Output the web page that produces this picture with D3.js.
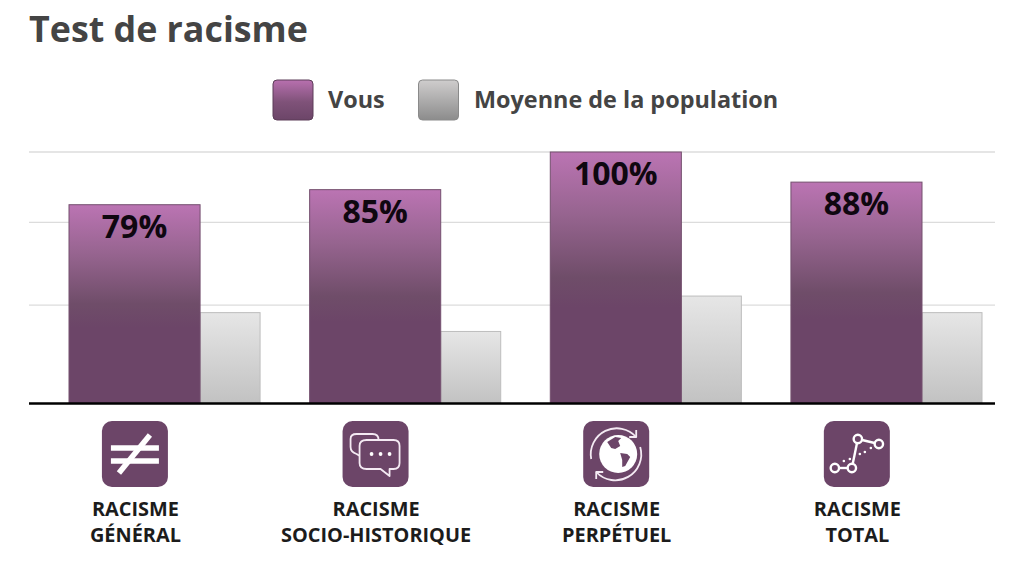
<!DOCTYPE html>
<html>
<head>
<meta charset="utf-8">
<script src="https://cdn.jsdelivr.net/npm/d3@7/dist/d3.min.js"></script>
<style>
  html, body { margin: 0; padding: 0; background: #fff; }
  text { font-family: 'Open Sans', sans-serif; font-weight: 700; }
</style>
</head>
<body>
<div id="chart"></div>
<script>
const categories = ['general', 'socio', 'perpetuel', 'total'];
const labelLines = [
  ['RACISME', 'GÉNÉRAL'],
  ['RACISME', 'SOCIO-HISTORIQUE'],
  ['RACISME', 'PERPÉTUEL'],
  ['RACISME', 'TOTAL'],
];
const vous = [79, 85, 100, 88];
const moyenne = [36, 28.5, 42.6, 36];
const gridValues = [39, 72, 100];

const width = 1024;
const height = 562;
const purple = '#6c4568';

const svg = d3.select('#chart').append('svg')
  .attr('width', width)
  .attr('height', height)
  .style('display', 'block');

const defs = svg.append('defs');

const addGradient = (id, stops) => {
  const g = defs.append('linearGradient')
    .attr('id', id)
    .attr('x1', 0).attr('y1', 0)
    .attr('x2', 0).attr('y2', 1);
  stops.forEach((s) => {
    g.append('stop').attr('offset', s[0]).attr('stop-color', s[1]);
  });
};

addGradient('barPurple', [[0, '#bb74b3'], [0.25, '#96648f'], [0.5, '#6f4d69'], [0.62, '#6c4568'], [1, '#6c4568']]);
addGradient('barGrey', [[0, '#e6e6e6'], [1, '#c2c2c2']]);
addGradient('legPurple', [[0, '#b870af'], [0.55, '#7f5279'], [1, '#6c4568']]);
addGradient('legGrey', [[0, '#cfcdcd'], [1, '#8c8c8c']]);

const y = d3.scaleLinear().domain([0, 100]).range([403, 152]);
const x = d3.scaleBand().domain(categories).range([69, 982]).paddingInner(0.206);
const inner = d3.scaleLinear().domain([0, 1]).range([0, x.bandwidth()]);
const split = 0.686; // part of the group taken by the purple bar

// title
svg.append('text')
  .attr('x', 29)
  .attr('y', 42)
  .style('font-size', '35.8px')
  .style('fill', '#444444')
  .text('Test de racisme');

// legend
const legend = [
  { name: 'Vous', x: 273, tx: 328, fill: 'url(#legPurple)', stroke: '#5c3d58' },
  { name: 'Moyenne de la population', x: 418.5, tx: 474, fill: 'url(#legGrey)', stroke: '#8a8a8a' },
];
const legendItems = svg.selectAll('.legend').data(legend).enter().append('g').attr('class', 'legend');
legendItems.append('rect')
  .attr('x', d => d.x)
  .attr('y', 80)
  .attr('width', 40)
  .attr('height', 40)
  .attr('rx', 4)
  .style('fill', d => d.fill)
  .style('stroke', d => d.stroke);
legendItems.append('text')
  .attr('x', d => d.tx)
  .attr('y', 108)
  .style('font-size', '23.4px')
  .style('fill', '#444444')
  .text(d => d.name);

// grid
svg.selectAll('.grid').data(gridValues).enter().append('line')
  .attr('class', 'grid')
  .attr('x1', 29)
  .attr('x2', 995)
  .attr('y1', d => y(d))
  .attr('y2', d => y(d))
  .style('stroke', '#dcdcdc')
  .style('stroke-width', 1.3);

// grey bars first, purple ones sit over their left edge
svg.selectAll('.bar-grey').data(categories).enter().append('rect')
  .attr('class', 'bar-grey')
  .attr('x', d => x(d) + inner(split))
  .attr('y', (d, i) => y(moyenne[i]))
  .attr('width', inner(1 - split))
  .attr('height', (d, i) => y(0) - y(moyenne[i]))
  .style('fill', 'url(#barGrey)')
  .style('stroke', '#bdbdbd');

svg.selectAll('.bar-purple').data(categories).enter().append('rect')
  .attr('class', 'bar-purple')
  .attr('x', d => x(d))
  .attr('y', (d, i) => y(vous[i]))
  .attr('width', inner(split))
  .attr('height', (d, i) => y(0) - y(vous[i]))
  .style('fill', 'url(#barPurple)')
  .style('stroke', '#74506f');

svg.selectAll('.value').data(categories).enter().append('text')
  .attr('class', 'value')
  .attr('x', d => x(d) + inner(split) / 2)
  .attr('y', (d, i) => y(vous[i]) + 33)
  .style('font-size', '32px')
  .style('text-anchor', 'middle')
  .style('fill', '#0f0710')
  .text((d, i) => vous[i] + '%');

// baseline
svg.append('line')
  .attr('x1', 29)
  .attr('x2', 995)
  .attr('y1', y(0) + 0.6)
  .attr('y2', y(0) + 0.6)
  .style('stroke', '#000')
  .style('stroke-width', 2.5);

// icons, drawn in a 66x66 box
const line = (g, x1, y1, x2, y2, w) => g.append('line')
  .attr('x1', x1).attr('y1', y1).attr('x2', x2).attr('y2', y2)
  .style('stroke', '#fff').style('stroke-width', w);

const ring = (g, cx, cy, r) => g.append('circle')
  .attr('cx', cx).attr('cy', cy).attr('r', r)
  .style('fill', purple).style('stroke', '#fff').style('stroke-width', 2.4);

const outline = (g, d, fill) => g.append('path')
  .attr('d', d)
  .style('fill', fill)
  .style('stroke', '#f4eaf3')
  .style('stroke-width', 1.8)
  .style('stroke-linejoin', 'round');

const solid = (g, d, fill) => g.append('path').attr('d', d).style('fill', fill);

const icons = {
  general: (g) => {
    line(g, 9, 27, 57, 27, 5.5);
    line(g, 9, 40, 57, 40, 5.5);
    line(g, 48, 14, 17, 52, 5.5);
  },
  socio: (g) => {
    outline(g, 'M14 13 H30 Q36 13 36 19 V33 Q36 39 30 39 H24 L14 33 Q8 31 8 26 V18 Q8 13 14 13 Z', purple);
    outline(g, 'M24 19 H51 Q57 19 57 25 V42 Q57 48 51 48 H47 L47 55 L38 48 H24 Q17 48 17 42 V25 Q17 19 24 19 Z', purple);
    [29, 38, 47].forEach((cx) => {
      g.append('circle').attr('cx', cx).attr('cy', 33).attr('r', 1.9).style('fill', '#fff');
    });
  },
  perpetuel: (g) => {
    g.append('circle').attr('cx', 35).attr('cy', 33).attr('r', 19).style('fill', '#fff');
    solid(g, 'M24 21 L32 16 L38 17 L35 20 L37 25 L32 28 L28 27 L26 24 Z', purple);
    solid(g, 'M37 32 L44 33 L47 36 L42 45 L39 46 L39 39 Z', purple);
    outline(g, 'M8 38 A26 26 0 0 1 53 16', 'none');
    outline(g, 'M57 26 A26 26 0 0 1 13 51', 'none');
    outline(g, 'M46 16 L53 16 L53 9', 'none');
    outline(g, 'M20 51 L13 51 L13 58', 'none');
  },
  total: (g) => {
    line(g, 11, 47, 28, 47, 2.4);
    line(g, 28, 47, 34, 18, 2.4);
    line(g, 34, 18, 55, 23, 2.4);
    [[20, 40], [26, 38], [36, 33], [41, 31], [47, 27]].forEach((p) => {
      g.append('circle').attr('cx', p[0]).attr('cy', p[1]).attr('r', 1.3).style('fill', '#fff');
    });
    ring(g, 11, 47, 4.2);
    ring(g, 28, 47, 4.2);
    ring(g, 34, 18, 4.2);
    ring(g, 55, 23, 4.2);
  },
};

const center = d => x(d) + x.bandwidth() * 0.345;

const iconGroups = svg.selectAll('.icon').data(categories).enter().append('g')
  .attr('class', 'icon')
  .attr('transform', d => `translate(${center(d) - 33},421)`);
iconGroups.append('rect')
  .attr('width', 66)
  .attr('height', 66)
  .attr('rx', 10)
  .style('fill', purple);
iconGroups.each(function (d) { icons[d](d3.select(this)); });

// category labels
const labels = svg.selectAll('.cat').data(categories).enter().append('text')
  .attr('class', 'cat')
  .attr('x', d => center(d) + 0.5)
  .style('font-size', '19.9px')
  .style('text-anchor', 'middle')
  .style('fill', '#1c1c1c');
labels.selectAll('tspan').data((d, i) => labelLines[i]).enter().append('tspan')
  .attr('x', function () { return d3.select(this.parentNode).attr('x'); })
  .attr('y', (d, i) => 516 + i * 26)
  .text(d => d);
</script>
</body>
</html>
